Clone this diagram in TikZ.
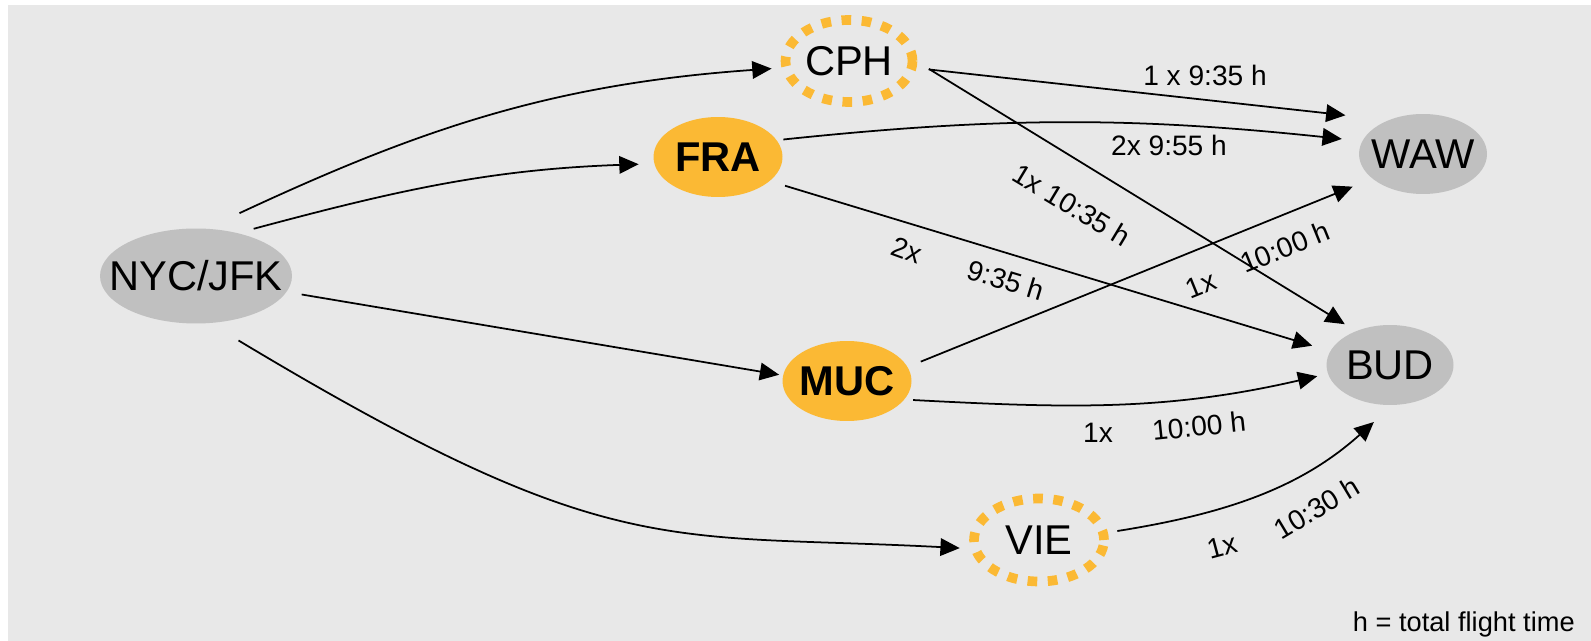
\documentclass[tikz,border=0pt]{standalone}
\usepackage{fontspec}
\setmainfont{Liberation Sans}
\usetikzlibrary{arrows.meta, shapes.geometric}

\definecolor{panel}{HTML}{E8E8E8}
\definecolor{citygrey}{HTML}{C0C0C0}
\definecolor{hubgold}{HTML}{FBB934}

\begin{document}
\begin{tikzpicture}[
      x=0.02cm, y=-0.02cm, >={Triangle[length=11pt,width=10pt]},
      city/.style={ellipse, fill=citygrey, inner sep=0pt, outer sep=0pt,
          minimum width=2.56cm, minimum height=1.6cm},
      hub/.style={city, fill=hubgold},
      via/.style={ellipse, draw=hubgold, line width=5.5pt, dash pattern=on 5.5pt off 6pt,
          inner sep=0pt, outer sep=0pt, minimum width=2.54cm, minimum height=1.64cm},
      iata/.style={font=\fontsize{23.7}{26}\selectfont},
      hubiata/.style={font=\fontsize{23.7}{26}\selectfont\bfseries},
      time/.style={font=\fontsize{16}{18}\selectfont, inner sep=0pt}
      ]
      \useasboundingbox (0,0) rectangle (1591,641);
      \fill[panel] (8,5) rectangle (1591,641);

      % airports
      \node[city, minimum width=3.84cm, minimum height=1.9cm,
            label={[iata]center:NYC/JFK}]        (nyc) at (196,276)  {};
      \node[via, label={[iata]center:CPH}]       (cph) at (849,61)   {};
      \node[hub, minimum width=2.58cm,
            label={[hubiata]center:FRA}]         (fra) at (718,157)  {};
      \node[hub, minimum width=2.58cm,
            label={[hubiata]center:MUC}]         (muc) at (847,381)  {};
      \node[via, minimum width=2.6cm, minimum height=1.66cm,
            label={[iata]center:VIE}]            (vie) at (1039,540) {};
      \node[city, label={[iata]center:WAW}]      (waw) at (1423,154) {};
      \node[city, minimum width=2.54cm,
            label={[iata]center:BUD}]            (bud) at (1390,365) {};

      % connections
      \path[->, line width=1pt]
      (nyc.78)  edge [out=25, in=184, shorten <=21pt, shorten >=8.4pt]   (cph.186)
      (nyc.46)  edge [out=15, in=182, shorten <=9.6pt, shorten >=9pt]    (fra.186)
      (nyc.350) edge [shorten <=8.8pt, shorten >=2.3pt]                  (muc.175)
      (nyc.286) edge [out=-31, in=177, out looseness=1.5, in looseness=1,
                      shorten <=19.3pt, shorten >=9pt]                   (vie.188)
      (cph.354) edge [shorten <=9.8pt, shorten >=25pt]                   (waw.135)
      (cph.2)   edge [shorten <=11pt, shorten >=7.6pt]                   (bud.135)
      (fra.16)  edge [out=6, in=174, shorten <=3.9pt, shorten >=11.8pt]  (waw.168)
      (fra.335) edge [shorten <=9.2pt, shorten >=10.8pt]                 (bud.167)
      (muc.13)  edge [shorten <=8.2pt, shorten >=12.2pt]                 (waw.206)
      (muc.342) edge [out=-3, in=193, shorten <=5.1pt, shorten >=6.3pt]  (bud.188)
      (vie.6)   edge [out=9, in=222, shorten <=8.2pt, shorten >=14.5pt]  (bud.274);

      % flight counts and times
      \node[time]             (t-cph-waw) at (1205,75)  {1 x 9:35 h};
      \node[time]             (t-fra-waw) at (1169,145) {2x 9:55 h};
      \node[time, rotate=-31] (t-cph-bud) at (1072,205) {1x 10:35 h};
      \node[time, rotate=-20] (n-fra-bud) at (907,250)  {2x};
      \node[time, rotate=-17] (t-fra-bud) at (1006,280) {9:35 h};
      \node[time, rotate=22]  (n-muc-waw) at (1201,285) {1x};
      \node[time, rotate=22]  (t-muc-waw) at (1285,247) {10:00 h};
      \node[time]             (n-muc-bud) at (1098,433) {1x};
      \node[time, rotate=6]   (t-muc-bud) at (1199,426) {10:00 h};
      \node[time, rotate=15]  (n-vie-bud) at (1222,546) {1x};
      \node[time, rotate=31]  (t-vie-bud) at (1317,508) {10:30 h};

      \node[font=\fontsize{15.5}{18}\selectfont, inner sep=0pt, anchor=base east]
            (note) at (1575,631) {h = total flight time};
    \end{tikzpicture}
\end{document}
